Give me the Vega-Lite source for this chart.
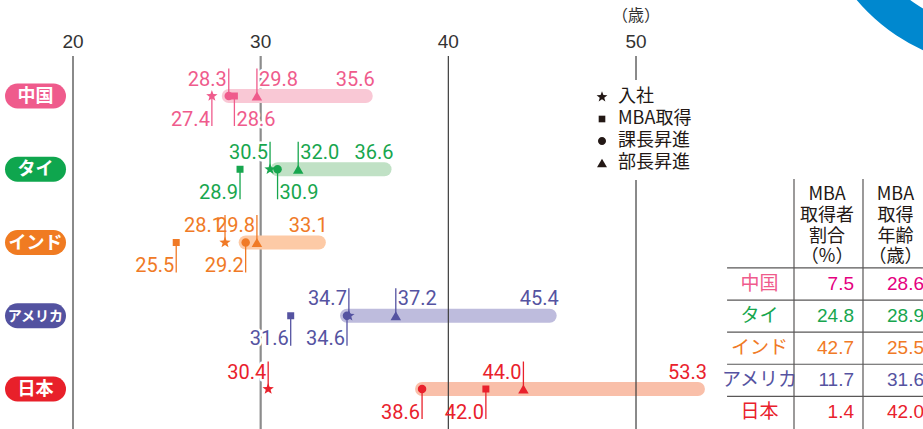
{
  "$schema": "https://vega.github.io/schema/vega-lite/v6.json",
  "padding": 0,
  "spacing": 0,
  "bounds": "flush",
  "background": "white",
  "config": {"view": {"stroke": null}, "axis": {"disable": true}},
  "resolve": {"scale": {"x": "independent", "y": "independent", "color": "independent", "shape": "independent", "size": "independent"}},
  "datasets": {
    "events": [
      {"country": "中国", "row": 1, "event": "入社", "age": 27.4, "level": "below", "labelSide": "left"},
      {"country": "中国", "row": 1, "event": "MBA取得", "age": 28.6, "level": "below", "labelSide": "right"},
      {"country": "中国", "row": 1, "event": "課長昇進", "age": 28.3, "level": "above", "labelSide": "left"},
      {"country": "中国", "row": 1, "event": "部長昇進", "age": 29.8, "level": "above", "labelSide": "right"},
      {"country": "タイ", "row": 2, "event": "入社", "age": 30.5, "level": "above", "labelSide": "left"},
      {"country": "タイ", "row": 2, "event": "MBA取得", "age": 28.9, "level": "below", "labelSide": "left"},
      {"country": "タイ", "row": 2, "event": "課長昇進", "age": 30.9, "level": "below", "labelSide": "right"},
      {"country": "タイ", "row": 2, "event": "部長昇進", "age": 32.0, "level": "above", "labelSide": "right"},
      {"country": "インド", "row": 3, "event": "入社", "age": 28.1, "level": "above", "labelSide": "left"},
      {"country": "インド", "row": 3, "event": "MBA取得", "age": 25.5, "level": "below", "labelSide": "left"},
      {"country": "インド", "row": 3, "event": "課長昇進", "age": 29.2, "level": "below", "labelSide": "left"},
      {"country": "インド", "row": 3, "event": "部長昇進", "age": 29.8, "level": "above", "labelSide": "left"},
      {"country": "アメリカ", "row": 4, "event": "入社", "age": 34.7, "level": "above", "labelSide": "left"},
      {"country": "アメリカ", "row": 4, "event": "MBA取得", "age": 31.6, "level": "below", "labelSide": "left"},
      {"country": "アメリカ", "row": 4, "event": "課長昇進", "age": 34.6, "level": "below", "labelSide": "left"},
      {"country": "アメリカ", "row": 4, "event": "部長昇進", "age": 37.2, "level": "above", "labelSide": "right"},
      {"country": "日本", "row": 5, "event": "入社", "age": 30.4, "level": "above", "labelSide": "left"},
      {"country": "日本", "row": 5, "event": "MBA取得", "age": 42.0, "level": "below", "labelSide": "left"},
      {"country": "日本", "row": 5, "event": "課長昇進", "age": 38.6, "level": "below", "labelSide": "left"},
      {"country": "日本", "row": 5, "event": "部長昇進", "age": 44.0, "level": "above", "labelSide": "left"}
    ],
    "bars": [
      {"country": "中国", "row": 1, "age": 28.3, "end": 35.6},
      {"country": "タイ", "row": 2, "age": 30.9, "end": 36.6},
      {"country": "インド", "row": 3, "age": 29.2, "end": 33.1},
      {"country": "アメリカ", "row": 4, "age": 34.6, "end": 45.4},
      {"country": "日本", "row": 5, "age": 38.6, "end": 53.3}
    ],
    "countries": [
      {"country": "中国", "row": 1},
      {"country": "タイ", "row": 2},
      {"country": "インド", "row": 3},
      {"country": "アメリカ", "row": 4},
      {"country": "日本", "row": 5}
    ],
    "grid": [{"age": 20}, {"age": 30}, {"age": 40}, {"age": 50}],
    "mbaTable": [
      {"country": "中国", "trow": 1, "pct": 7.5, "mbaAge": 28.6},
      {"country": "タイ", "trow": 2, "pct": 24.8, "mbaAge": 28.9},
      {"country": "インド", "trow": 3, "pct": 42.7, "mbaAge": 25.5},
      {"country": "アメリカ", "trow": 4, "pct": 11.7, "mbaAge": 31.6},
      {"country": "日本", "trow": 5, "pct": 1.4, "mbaAge": 42.0}
    ],
    "tableLines": [{"trow": 0.5}, {"trow": 1.5}, {"trow": 2.5}, {"trow": 3.5}, {"trow": 4.5}],
    "tableCols": [{"col": 1}, {"col": 2}],
    "headers": [
      {"col": 1.48, "label": ["MBA", "取得者", "割合", "（%）"]},
      {"col": 2.47, "label": ["MBA", "取得", "年齢", "（歳）"]}
    ]
  },
  "hconcat": [
    {
      "width": 725,
      "height": 429,
      "resolve": {"scale": {"color": "independent"}},
      "layer": [
        {
          "data": {"name": "grid"},
          "transform": [{"filter": "datum.age === 30"}],
          "mark": {"type": "rule", "color": "#8c8c8c", "strokeWidth": 2.2},
          "encoding": {
            "x": {"field": "age", "type": "quantitative", "scale": {"domain": [16.11, 54.742], "nice": false, "zero": false}},
            "y": {"datum": 0.454, "type": "quantitative", "scale": {"domain": [-0.3106, 5.546], "reverse": true, "nice": false, "zero": false}},
            "y2": {"datum": 5.546}
          }
        },
        {
          "data": {"name": "events"},
          "transform": [{"filter": "datum.level === 'above' && datum.labelSide === 'left'"}],
          "mark": {"type": "text", "align": "right", "baseline": "alphabetic", "dx": -2, "dy": -10.5, "font": "Roboto, sans-serif", "fontSize": 20, "color": "white", "stroke": "white", "strokeWidth": 5, "strokeJoin": "round"},
          "encoding": {
            "x": {"field": "age", "type": "quantitative"},
            "y": {"field": "row", "type": "quantitative"},
            "text": {"field": "age", "type": "quantitative", "format": ".1f"}
          }
        },
        {
          "data": {"name": "events"},
          "transform": [{"filter": "datum.level === 'above' && datum.labelSide === 'right'"}],
          "mark": {"type": "text", "align": "left", "baseline": "alphabetic", "dx": 2, "dy": -10.5, "font": "Roboto, sans-serif", "fontSize": 20, "color": "white", "stroke": "white", "strokeWidth": 5, "strokeJoin": "round"},
          "encoding": {
            "x": {"field": "age", "type": "quantitative"},
            "y": {"field": "row", "type": "quantitative"},
            "text": {"field": "age", "type": "quantitative", "format": ".1f"}
          }
        },
        {
          "data": {"name": "events"},
          "transform": [{"filter": "datum.level === 'below' && datum.labelSide === 'left'"}],
          "mark": {"type": "text", "align": "right", "baseline": "alphabetic", "dx": -2, "dy": 29.5, "font": "Roboto, sans-serif", "fontSize": 20, "color": "white", "stroke": "white", "strokeWidth": 5, "strokeJoin": "round"},
          "encoding": {
            "x": {"field": "age", "type": "quantitative"},
            "y": {"field": "row", "type": "quantitative"},
            "text": {"field": "age", "type": "quantitative", "format": ".1f"}
          }
        },
        {
          "data": {"name": "events"},
          "transform": [{"filter": "datum.level === 'below' && datum.labelSide === 'right'"}],
          "mark": {"type": "text", "align": "left", "baseline": "alphabetic", "dx": 2, "dy": 29.5, "font": "Roboto, sans-serif", "fontSize": 20, "color": "white", "stroke": "white", "strokeWidth": 5, "strokeJoin": "round"},
          "encoding": {
            "x": {"field": "age", "type": "quantitative"},
            "y": {"field": "row", "type": "quantitative"},
            "text": {"field": "age", "type": "quantitative", "format": ".1f"}
          }
        },
        {
          "data": {"name": "bars"},
          "mark": {"type": "rule", "strokeWidth": 14, "strokeCap": "round"},
          "encoding": {
            "x": {"field": "age", "type": "quantitative"},
            "x2": {"field": "end"},
            "y": {"field": "row", "type": "quantitative"},
            "color": {"field": "country", "type": "nominal", "scale": {"domain": ["中国", "タイ", "インド", "アメリカ", "日本"], "range": ["#f9c8d5", "#c0e1c5", "#fdcaa6", "#bebcdd", "#f9bfa9"]}, "legend": null}
          }
        },
        {
          "data": {"name": "grid"},
          "transform": [{"filter": "datum.age !== 30"}],
          "mark": {"type": "rule", "color": "#3c3c3c", "strokeWidth": 1.2},
          "encoding": {
            "x": {"field": "age", "type": "quantitative"},
            "y": {"datum": 0.454, "type": "quantitative"},
            "y2": {"datum": 5.546}
          }
        },
        {
          "data": {"name": "grid"},
          "mark": {"type": "text", "font": "Liberation Sans, Arial, sans-serif", "fontSize": 19, "color": "#333333", "baseline": "middle"},
          "encoding": {
            "x": {"field": "age", "type": "quantitative"},
            "y": {"datum": 0.263, "type": "quantitative"},
            "text": {"field": "age", "type": "quantitative"}
          }
        },
        {
          "data": {"values": [{"age": 50, "unit": "（歳）"}]},
          "mark": {"type": "text", "font": "Noto Sans CJK JP", "fontSize": 16, "color": "#333333", "baseline": "middle"},
          "encoding": {
            "x": {"field": "age", "type": "quantitative"},
            "y": {"datum": -0.092, "type": "quantitative"},
            "text": {"field": "unit"}
          }
        },
        {
          "data": {"name": "events"},
          "transform": [{"filter": "datum.level === 'above'"}],
          "mark": {"type": "tick", "orient": "vertical", "size": 27.5, "thickness": 1.3, "yOffset": -13.75, "opacity": 1},
          "encoding": {
            "x": {"field": "age", "type": "quantitative"},
            "y": {"field": "row", "type": "quantitative"},
            "color": {"field": "country", "type": "nominal", "scale": {"domain": ["中国", "タイ", "インド", "アメリカ", "日本"], "range": ["#ef5b8c", "#17a64e", "#f07a26", "#5553a1", "#e9212c"]}, "legend": null}
          }
        },
        {
          "data": {"name": "events"},
          "transform": [{"filter": "datum.level === 'below'"}],
          "mark": {"type": "tick", "orient": "vertical", "size": 30, "thickness": 1.3, "yOffset": 15, "opacity": 1},
          "encoding": {
            "x": {"field": "age", "type": "quantitative"},
            "y": {"field": "row", "type": "quantitative"},
            "color": {"field": "country", "type": "nominal", "scale": {"domain": ["中国", "タイ", "インド", "アメリカ", "日本"], "range": ["#ef5b8c", "#17a64e", "#f07a26", "#5553a1", "#e9212c"]}, "legend": null}
          }
        },
        {
          "data": {"name": "events"},
          "mark": {"type": "point", "filled": true, "opacity": 1, "strokeWidth": 0, "size": 100},
          "encoding": {
            "x": {"field": "age", "type": "quantitative"},
            "y": {"field": "row", "type": "quantitative"},
            "shape": {"field": "event", "type": "nominal", "scale": {"domain": ["入社", "MBA取得", "課長昇進", "部長昇進"], "range": ["M0,-1.2L0.294,-0.405L1.141,-0.371L0.476,0.155L0.705,0.971L0,0.5L-0.705,0.971L-0.476,0.155L-1.141,-0.371L-0.294,-0.405Z", "M-0.7,-0.7L0.7,-0.7L0.7,0.7L-0.7,0.7Z", "M0.85,0A0.85,0.85,0,1,1,-0.85,0A0.85,0.85,0,1,1,0.85,0Z", "M0,-0.9L1.05,0.9L-1.05,0.9Z"]},
              "legend": {"orient": "none", "legendX": 585, "legendY": 80, "title": null, "labelFont": "Noto Sans CJK JP", "labelFontSize": 18, "labelColor": "#231815", "symbolFillColor": "#231815", "symbolStrokeColor": "#231815", "symbolStrokeWidth": 0, "symbolSize": 90, "rowPadding": 4, "padding": 8, "fillColor": "white", "labelOffset": 7}},
            "color": {"field": "country", "type": "nominal", "scale": {"domain": ["中国", "タイ", "インド", "アメリカ", "日本"], "range": ["#ef5b8c", "#17a64e", "#f07a26", "#5553a1", "#e9212c"]}, "legend": null}
          }
        },
        {
          "data": {"name": "events"},
          "transform": [{"filter": "datum.level === 'above' && datum.labelSide === 'left'"}],
          "mark": {"type": "text", "align": "right", "baseline": "alphabetic", "dx": -2, "dy": -10.5, "font": "Roboto, sans-serif", "fontSize": 20},
          "encoding": {
            "x": {"field": "age", "type": "quantitative"},
            "y": {"field": "row", "type": "quantitative"},
            "text": {"field": "age", "type": "quantitative", "format": ".1f"},
            "color": {"field": "country", "type": "nominal", "scale": {"domain": ["中国", "タイ", "インド", "アメリカ", "日本"], "range": ["#ef5b8c", "#17a64e", "#f07a26", "#5553a1", "#e9212c"]}, "legend": null}
          }
        },
        {
          "data": {"name": "events"},
          "transform": [{"filter": "datum.level === 'above' && datum.labelSide === 'right'"}],
          "mark": {"type": "text", "align": "left", "baseline": "alphabetic", "dx": 2, "dy": -10.5, "font": "Roboto, sans-serif", "fontSize": 20},
          "encoding": {
            "x": {"field": "age", "type": "quantitative"},
            "y": {"field": "row", "type": "quantitative"},
            "text": {"field": "age", "type": "quantitative", "format": ".1f"},
            "color": {"field": "country", "type": "nominal", "scale": {"domain": ["中国", "タイ", "インド", "アメリカ", "日本"], "range": ["#ef5b8c", "#17a64e", "#f07a26", "#5553a1", "#e9212c"]}, "legend": null}
          }
        },
        {
          "data": {"name": "events"},
          "transform": [{"filter": "datum.level === 'below' && datum.labelSide === 'left'"}],
          "mark": {"type": "text", "align": "right", "baseline": "alphabetic", "dx": -2, "dy": 29.5, "font": "Roboto, sans-serif", "fontSize": 20},
          "encoding": {
            "x": {"field": "age", "type": "quantitative"},
            "y": {"field": "row", "type": "quantitative"},
            "text": {"field": "age", "type": "quantitative", "format": ".1f"},
            "color": {"field": "country", "type": "nominal", "scale": {"domain": ["中国", "タイ", "インド", "アメリカ", "日本"], "range": ["#ef5b8c", "#17a64e", "#f07a26", "#5553a1", "#e9212c"]}, "legend": null}
          }
        },
        {
          "data": {"name": "events"},
          "transform": [{"filter": "datum.level === 'below' && datum.labelSide === 'right'"}],
          "mark": {"type": "text", "align": "left", "baseline": "alphabetic", "dx": 2, "dy": 29.5, "font": "Roboto, sans-serif", "fontSize": 20},
          "encoding": {
            "x": {"field": "age", "type": "quantitative"},
            "y": {"field": "row", "type": "quantitative"},
            "text": {"field": "age", "type": "quantitative", "format": ".1f"},
            "color": {"field": "country", "type": "nominal", "scale": {"domain": ["中国", "タイ", "インド", "アメリカ", "日本"], "range": ["#ef5b8c", "#17a64e", "#f07a26", "#5553a1", "#e9212c"]}, "legend": null}
          }
        },
        {
          "data": {"name": "bars"},
          "mark": {"type": "text", "align": "right", "baseline": "alphabetic", "dx": 9, "dy": -10.5, "font": "Roboto, sans-serif", "fontSize": 20},
          "encoding": {
            "x": {"field": "end", "type": "quantitative"},
            "y": {"field": "row", "type": "quantitative"},
            "text": {"field": "end", "type": "quantitative", "format": ".1f"},
            "color": {"field": "country", "type": "nominal", "scale": {"domain": ["中国", "タイ", "インド", "アメリカ", "日本"], "range": ["#ef5b8c", "#17a64e", "#f07a26", "#5553a1", "#e9212c"]}, "legend": null}
          }
        },
        {
          "data": {"name": "countries"},
          "mark": {"type": "rule", "strokeWidth": 25, "strokeCap": "round"},
          "encoding": {
            "x": {"datum": 17.043, "type": "quantitative"},
            "x2": {"datum": 18.961},
            "y": {"field": "row", "type": "quantitative"},
            "color": {"field": "country", "type": "nominal", "scale": {"domain": ["中国", "タイ", "インド", "アメリカ", "日本"], "range": ["#ef5b8c", "#0fa64e", "#f07b22", "#5352a0", "#e8202a"]}, "legend": null}
          }
        },
        {
          "data": {"name": "countries"},
          "mark": {"type": "text", "font": "Noto Sans CJK JP", "fontWeight": "bold", "color": "white", "baseline": "middle", "align": "center", "dy": 1},
          "encoding": {
            "x": {"datum": 18.0, "type": "quantitative"},
            "y": {"field": "row", "type": "quantitative"},
            "text": {"field": "country"},
            "size": {"condition": {"test": "datum.country === 'アメリカ'", "value": 14}, "value": 18}
          }
        }
      ]
    },
    {
      "width": 198,
      "height": 429,
      "resolve": {"scale": {"x": "independent", "y": "independent", "color": "independent"}},
      "layer": [
        {
          "data": {"values": [{"shape": "ring"}]},
          "mark": {"type": "arc", "radius": 187, "radius2": 150, "theta": 0, "theta2": 6.2832, "color": "#0088cf", "clip": true},
          "encoding": {
            "x": {"datum": 1.389, "type": "quantitative", "scale": {"domain": [0, 1], "nice": false, "zero": false}},
            "y": {"datum": 1.28, "type": "quantitative", "scale": {"domain": [0, 1], "nice": false, "zero": false}}
          }
        },
        {
          "resolve": {"scale": {"color": "independent"}},
          "layer": [
            {
              "data": {"name": "tableLines"},
              "mark": {"type": "rule", "color": "#595757", "strokeWidth": 1.2},
              "encoding": {
                "x": {"datum": 0.03, "type": "quantitative", "scale": {"domain": [0, 2.8696], "nice": false, "zero": false}},
                "x2": {"datum": 2.8696},
                "y": {"field": "trow", "type": "quantitative", "scale": {"domain": [-7.847, 5.517], "reverse": true, "nice": false, "zero": false}}
              }
            },
            {
              "data": {"name": "tableCols"},
              "mark": {"type": "rule", "color": "#595757", "strokeWidth": 1.2},
              "encoding": {
                "x": {"field": "col", "type": "quantitative"},
                "y": {"datum": -2.271, "type": "quantitative"},
                "y2": {"datum": 5.517}
              }
            },
            {
              "data": {"name": "headers"},
              "mark": {"type": "text", "font": "Noto Sans CJK JP", "fontSize": 18, "lineHeight": 20.7, "baseline": "middle", "align": "center", "color": "#231815"},
              "encoding": {
                "x": {"field": "col", "type": "quantitative"},
                "y": {"datum": -1.76, "type": "quantitative"},
                "text": {"field": "label"}
              }
            },
            {
              "data": {"name": "mbaTable"},
              "mark": {"type": "text", "font": "Noto Sans CJK JP", "fontSize": 19, "baseline": "middle", "align": "center"},
              "encoding": {
                "x": {"datum": 0.5, "type": "quantitative"},
                "y": {"field": "trow", "type": "quantitative"},
                "text": {"field": "country"},
                "color": {"field": "country", "type": "nominal", "scale": {"domain": ["中国", "タイ", "インド", "アメリカ", "日本"], "range": ["#ef5b8c", "#17a64e", "#f07a26", "#5553a1", "#e9212c"]}, "legend": null}
              }
            },
            {
              "data": {"name": "mbaTable"},
              "mark": {"type": "text", "font": "Liberation Sans, Arial, sans-serif", "fontSize": 19, "baseline": "middle", "align": "right", "dx": -9},
              "encoding": {
                "x": {"datum": 2, "type": "quantitative"},
                "y": {"field": "trow", "type": "quantitative"},
                "text": {"field": "pct", "type": "quantitative", "format": ".1f"},
                "color": {"field": "country", "type": "nominal", "scale": {"domain": ["中国", "タイ", "インド", "アメリカ", "日本"], "range": ["#e5007f", "#17a64e", "#f07a26", "#5553a1", "#e9212c"]}, "legend": null}
              }
            },
            {
              "data": {"name": "mbaTable"},
              "mark": {"type": "text", "font": "Liberation Sans, Arial, sans-serif", "fontSize": 19, "baseline": "middle", "align": "right", "dx": 1},
              "encoding": {
                "x": {"datum": 2.8696, "type": "quantitative"},
                "y": {"field": "trow", "type": "quantitative"},
                "text": {"field": "mbaAge", "type": "quantitative", "format": ".1f"},
                "color": {"field": "country", "type": "nominal", "scale": {"domain": ["中国", "タイ", "インド", "アメリカ", "日本"], "range": ["#e5007f", "#17a64e", "#f07a26", "#5553a1", "#e9212c"]}, "legend": null}
              }
            }
          ]
        }
      ]
    }
  ]
}
